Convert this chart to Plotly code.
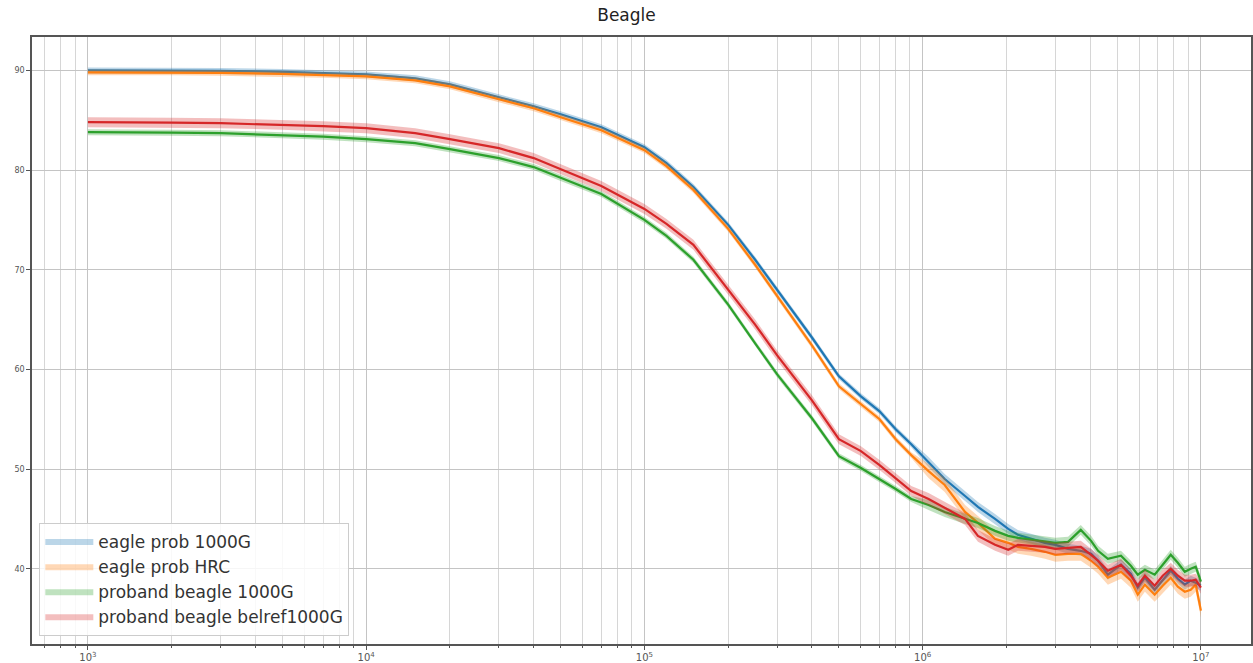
import plotly.graph_objects as go

# Window size (bp) and mean accuracy per method
window = [1e3, 1.5e3, 2e3, 3e3, 5e3, 7e3, 1e4, 1.5e4, 2e4, 3e4, 4e4, 5e4, 7e4, 1e5, 1.2e5,
          1.5e5, 2e5, 2.5e5, 3e5, 4e5, 5e5,
          6e5, 7e5, 8e5, 9.1e5, 1.05e6, 1.2e6, 1.42e6, 1.58e6, 1.82e6, 2.03e6, 2.2e6,
          2.45e6, 2.75e6, 3.0e6, 3.33e6, 3.7e6, 4.03e6, 4.27e6, 4.63e6, 5.16e6, 5.6e6,
          5.93e6, 6.29e6, 6.82e6, 7.29e6, 7.79e6, 8.26e6, 8.75e6, 9.19e6, 9.58e6, 1e7]

eagle_1000g = [90.0, 90.0, 90.0, 89.95, 89.85, 89.75, 89.6, 89.2, 88.6, 87.3, 86.4, 85.6, 84.3, 82.3, 80.7,
               78.3, 74.5, 71.0, 68.0, 63.2, 59.3,
               57.3, 55.8, 54.0, 52.5, 50.7, 49.0, 47.3, 46.2, 45.0, 44.0, 43.4,
               43.0, 42.6, 42.4, 42.0, 41.8, 41.5, 40.8, 39.4, 40.4, 39.5,
               38.1, 39.1, 37.9, 38.8, 39.8, 39.0, 38.4, 38.8, 38.6, 38.3]

eagle_hrc = [89.8, 89.8, 89.8, 89.75, 89.65, 89.55, 89.4, 89.0, 88.4, 87.1, 86.2, 85.3, 84.0, 82.0, 80.4,
             78.0, 74.1, 70.5, 67.4, 62.4, 58.3,
             56.5, 55.0, 53.0, 51.4, 49.8, 48.4, 45.7, 44.6, 43.0, 42.6, 42.2,
             42.0, 41.7, 41.4, 41.5, 41.5, 40.8, 40.2, 39.1, 39.7, 38.8,
             37.4, 38.4, 37.4, 38.3, 39.1, 38.2, 37.7, 37.9, 38.4, 35.8]

proband_1000g = [83.8, 83.8, 83.75, 83.7, 83.5, 83.35, 83.1, 82.7, 82.1, 81.2, 80.3, 79.2, 77.6, 75.0, 73.4,
                 71.0, 66.5, 62.6, 59.5, 55.1, 51.3,
                 50.1, 49.0, 48.0, 47.0, 46.4, 45.7, 45.0, 44.6, 43.8, 43.3, 43.1,
                 42.9, 42.7, 42.6, 42.7, 43.9, 42.8, 41.8, 41.0, 41.3, 40.3,
                 39.4, 39.9, 39.4, 40.4, 41.4, 40.6, 39.7, 40.0, 40.2, 38.7]

proband_belref = [84.8, 84.8, 84.75, 84.7, 84.55, 84.4, 84.2, 83.7, 83.1, 82.2, 81.2, 80.1, 78.4, 76.1, 74.6,
                  72.5, 68.0, 64.5, 61.4, 56.9, 53.0,
                  51.8, 50.4, 49.1, 47.8, 47.0, 46.1, 45.0, 43.3, 42.4, 41.9, 42.4,
                  42.3, 42.2, 42.0, 42.1, 42.2, 41.4, 40.8, 39.8, 40.4, 39.3,
                  38.3, 39.3, 38.3, 39.3, 40.0, 39.3, 38.8, 38.8, 38.9, 38.1]

# Half-width of the confidence band (windows below / above 1 Mb)
band_small = [0.3, 0.3, 0.3, 0.5]
band_large = [0.5, 0.7, 0.5, 0.6]

labels = ["eagle prob 1000G", "eagle prob HRC", "proband beagle 1000G", "proband beagle belref1000G"]
series = [eagle_1000g, eagle_hrc, proband_1000g, proband_belref]
colors = [(31, 119, 180), (255, 127, 14), (44, 160, 44), (214, 39, 40)]

fig = go.Figure()

for name, vals, (r, g, b), hs, hl in zip(labels, series, colors, band_small, band_large):
    half = [hs if w < 1e6 else hl for w in window]
    upper = [v + h for v, h in zip(vals, half)]
    lower = [v - h for v, h in zip(vals, half)]
    fig.add_trace(go.Scatter(
        x=window + window[::-1], y=upper + lower[::-1],
        fill="toself", fillcolor=f"rgba({r},{g},{b},0.3)",
        line=dict(width=0), mode="lines", name=name, hoverinfo="skip",
    ))
    fig.add_trace(go.Scatter(
        x=window, y=vals, mode="lines", showlegend=False, name=name,
        line=dict(color=f"rgb({r},{g},{b})", width=2.2),
    ))

fig.update_layout(
    width=1253, height=663,
    margin=dict(l=32, r=0, t=37, b=17),
    paper_bgcolor="white", plot_bgcolor="white",
    font=dict(family="DejaVu Sans", color="#333"),
    title=dict(text="Beagle", x=0.5, xanchor="center", y=0.977, yanchor="middle",
               font=dict(size=17, color="#222")),
    legend=dict(
        x=0.006, y=0.014, xanchor="left", yanchor="bottom",
        bgcolor="rgba(255,255,255,0.85)", bordercolor="#cccccc", borderwidth=1,
        font=dict(size=17, color="#333"), tracegroupgap=0, itemwidth=48,
    ),
    showlegend=True,
)

fig.update_xaxes(
    type="log", range=[2.799, 7.18], dtick=1, exponentformat="power",
    showgrid=True, gridcolor="#c4c4c4", gridwidth=1,
    minor=dict(dtick="D1", showgrid=True, gridcolor="#d6d6d6", gridwidth=1,
               ticks="outside", ticklen=2, tickcolor="#555"),
    ticks="outside", ticklen=4, tickcolor="#555",
    tickfont=dict(size=8, color="#555"),
    showline=True, linecolor="#555", linewidth=1.5, mirror=True,
    zeroline=False,
)
fig.update_yaxes(
    range=[32.45, 93.35], dtick=10, tick0=0,
    showgrid=True, gridcolor="#c4c4c4", gridwidth=1,
    ticks="outside", ticklen=4, tickcolor="#555",
    tickfont=dict(size=8, color="#555"),
    showline=True, linecolor="#555", linewidth=1.5, mirror=True,
    zeroline=False,
)

fig.write_html("out.html")
